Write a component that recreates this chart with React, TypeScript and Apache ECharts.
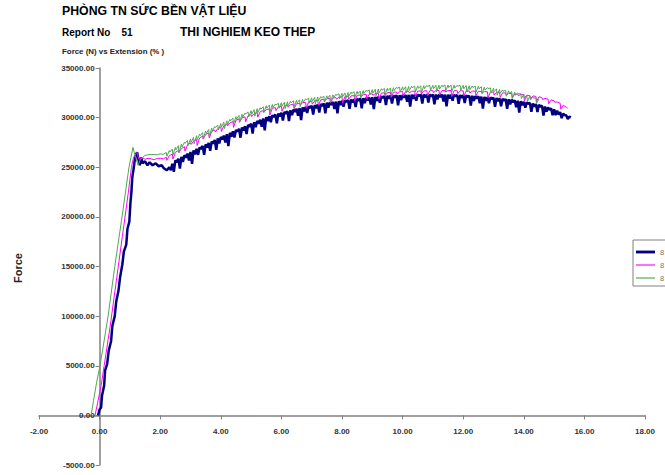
import React, { useEffect, useRef } from "react";
import * as echarts from "echarts";

const seriesNames = ["8-1", "8-2", "8-3"];
const legendLabel = "8";
const xTicks = { min: -2, max: 18, interval: 2 };
const yTicks = { min: -5000, max: 35000, interval: 5000 };

const navy: number[][] = [
  [-0.05, 0], [0.0, 600], [0.05, 800], [0.08, 2000], [0.15, 3000], [0.18, 4500], [0.25, 5200], [0.3, 6500],
  [0.38, 7500], [0.42, 9000], [0.5, 10000], [0.55, 11500], [0.62, 12500], [0.68, 14000], [0.75, 15200],
  [0.8, 16500], [0.88, 17200], [0.92, 18800], [0.98, 19500], [1.02, 21500], [1.05, 22500], [1.08, 24000],
  [1.12, 24800], [1.15, 25500], [1.2, 26300], [1.24, 26500], [1.28, 25800], [1.33, 25200], [1.37, 26000],
  [1.42, 25400], [1.5, 25600], [1.58, 25200], [1.65, 25500], [1.75, 25200], [1.85, 25400], [1.95, 25100],
  [2.05, 25200], [2.12, 24900], [2.22, 24700],
  [2.3, 25000], [2.35, 24700], [2.4, 25350], [2.45, 24550], [2.5, 25700], [2.55, 25500], [2.6, 25870], [2.65, 24870],
  [2.7, 26040], [2.75, 25540], [2.8, 26210], [2.85, 25960], [2.9, 26380], [2.95, 25680], [3.0, 26550], [3.05, 25350],
  [3.1, 26700], [3.15, 26300], [3.2, 26850], [3.25, 26250], [3.3, 27000], [3.35, 26850], [3.4, 27150], [3.45, 26250],
  [3.5, 27300], [3.55, 27000], [3.6, 27450], [3.65, 26650], [3.7, 27600], [3.75, 27400], [3.8, 27750], [3.85, 26750],
  [3.9, 27900], [3.95, 27400], [4.0, 28050], [4.05, 27800], [4.1, 28190], [4.15, 27490], [4.2, 28330], [4.25, 27130],
  [4.3, 28470], [4.35, 28070], [4.4, 28610], [4.45, 28010], [4.5, 28750], [4.55, 28600], [4.6, 28880], [4.65, 27980],
  [4.7, 29010], [4.75, 28710], [4.8, 29140], [4.85, 28340], [4.9, 29270], [4.95, 29070], [5.0, 29400], [5.05, 28400],
  [5.1, 29530], [5.15, 29030], [5.2, 29660], [5.25, 29410], [5.3, 29790], [5.35, 29090], [5.4, 29920], [5.45, 28720],
  [5.5, 30050], [5.55, 29650], [5.6, 30140], [5.65, 29540], [5.7, 30230], [5.75, 30080], [5.8, 30320], [5.85, 29420],
  [5.9, 30410], [5.95, 30110], [6.0, 30500], [6.05, 29700], [6.1, 30580], [6.15, 30380], [6.2, 30660], [6.25, 29660],
  [6.3, 30740], [6.35, 30240], [6.4, 30820], [6.45, 30570], [6.5, 30900], [6.55, 30200], [6.6, 30960], [6.65, 29760],
  [6.7, 31020], [6.75, 30620], [6.8, 31080], [6.85, 30480], [6.9, 31140], [6.95, 30990], [7.0, 31200], [7.05, 30300],
  [7.1, 31260], [7.15, 30960], [7.2, 31320], [7.25, 30520], [7.3, 31380], [7.35, 31180], [7.4, 31440], [7.45, 30440],
  [7.5, 31500], [7.55, 31000], [7.6, 31540], [7.65, 31290], [7.7, 31580], [7.75, 30880], [7.8, 31620], [7.85, 30420],
  [7.9, 31660], [7.95, 31260], [8.0, 31700], [8.05, 31100], [8.1, 31740], [8.15, 31590], [8.2, 31780], [8.25, 30880],
  [8.3, 31820], [8.35, 31520], [8.4, 31860], [8.45, 31060], [8.5, 31900], [8.55, 31700], [8.6, 31930], [8.65, 30930],
  [8.7, 31960], [8.75, 31460], [8.8, 31990], [8.85, 31740], [8.9, 32020], [8.95, 31320], [9.0, 32050], [9.05, 30850],
  [9.1, 32080], [9.15, 31680], [9.2, 32110], [9.25, 31510], [9.3, 32140], [9.35, 31990], [9.4, 32170], [9.45, 31270],
  [9.5, 32200], [9.55, 31900], [9.6, 32220], [9.65, 31420], [9.7, 32230], [9.75, 32030], [9.8, 32250], [9.85, 31250],
  [9.9, 32260], [9.95, 31760], [10.0, 32280], [10.05, 32030], [10.1, 32290], [10.15, 31590], [10.2, 32300], [10.25, 31100],
  [10.3, 32305], [10.35, 31900], [10.4, 32310], [10.45, 31710], [10.5, 32320], [10.55, 32170], [10.6, 32325], [10.65, 31425],
  [10.7, 32330], [10.75, 32030], [10.8, 32330], [10.85, 31530], [10.9, 32330], [10.95, 32130], [11.0, 32330], [11.05, 31330],
  [11.1, 32330], [11.15, 31830], [11.2, 32330], [11.25, 32080], [11.3, 32328], [11.35, 31628], [11.4, 32325], [11.45, 31125],
  [11.5, 32320], [11.55, 31920], [11.6, 32310], [11.65, 31710], [11.7, 32300], [11.75, 32150], [11.8, 32290], [11.85, 31390],
  [11.9, 32280], [11.95, 31980], [12.0, 32270], [12.05, 31470], [12.1, 32250], [12.15, 32050], [12.2, 32220], [12.25, 31220],
  [12.3, 32200], [12.35, 31700], [12.4, 32170], [12.45, 31920], [12.5, 32150], [12.55, 31450], [12.6, 32120], [12.65, 30920],
  [12.7, 32090], [12.75, 31690], [12.8, 32060], [12.85, 31460], [12.9, 32030], [12.95, 31880], [13.0, 32000], [13.05, 31100],
  [13.1, 31970], [13.15, 31670], [13.2, 31940], [13.25, 31140], [13.3, 31910], [13.35, 31710], [13.4, 31880], [13.45, 30880],
  [13.5, 31850], [13.55, 31350], [13.6, 31800], [13.65, 31550], [13.7, 31750], [13.75, 31050], [13.8, 31700], [13.85, 30500],
  [13.9, 31650], [13.95, 31250], [14.0, 31600], [14.05, 31000], [14.1, 31540], [14.15, 31390], [14.2, 31480], [14.25, 30580],
  [14.3, 31420], [14.35, 31120], [14.4, 31360], [14.45, 30560], [14.5, 31300], [14.55, 31100], [14.6, 31210], [14.65, 30210],
  [14.7, 31120], [14.75, 30620], [14.8, 31030], [14.85, 30780], [14.9, 30940], [14.95, 30240], [15.0, 30850], [15.05, 30250],
  [15.1, 30700], [15.15, 30300], [15.2, 30550], [15.25, 29950], [15.3, 30400], [15.35, 30250], [15.4, 30250], [15.45, 29850],
  [15.5, 30100], [15.55, 30000],
];

const magenta: number[][] = [
  [-0.15, 0], [-0.05, 1500], [0.05, 3000], [0.15, 5000], [0.35, 9000], [0.55, 13500], [0.75, 18000],
  [0.95, 22500], [1.05, 25000], [1.12, 26000], [1.23, 26500], [1.3, 25800],
  [1.4, 26000], [1.5, 25800], [1.6, 25900], [1.7, 25850], [1.8, 25750], [1.9, 25900], [2.0, 25900], [2.1, 25850],
  [2.2, 26000], [2.22, 25700], [2.3, 26170], [2.4, 26330], [2.42, 25830], [2.5, 26500], [2.6, 26690], [2.62, 26490],
  [2.7, 26880], [2.8, 27070], [2.82, 26620], [2.9, 27260], [3.0, 27450], [3.02, 27300], [3.1, 27620], [3.2, 27790],
  [3.22, 27190], [3.3, 27960], [3.4, 28130], [3.42, 27830], [3.5, 28300], [3.6, 28450], [3.62, 27950], [3.7, 28600],
  [3.8, 28750], [3.82, 28550], [3.9, 28900], [4.0, 29050], [4.02, 28600], [4.1, 29190], [4.2, 29330], [4.22, 29180],
  [4.3, 29470], [4.4, 29610], [4.42, 29010], [4.5, 29750], [4.6, 29860], [4.62, 29560], [4.7, 29970], [4.8, 30080],
  [4.82, 29580], [4.9, 30190], [5.0, 30300], [5.02, 30100], [5.1, 30400], [5.2, 30500], [5.22, 30050], [5.3, 30600],
  [5.4, 30700], [5.42, 30550], [5.5, 30800], [5.6, 30870], [5.62, 30270], [5.7, 30940], [5.8, 31010], [5.82, 30710],
  [5.9, 31080], [6.0, 31150], [6.02, 30650], [6.1, 31200], [6.2, 31250], [6.22, 31050], [6.3, 31300], [6.4, 31350],
  [6.42, 30900], [6.5, 31400], [6.6, 31450], [6.62, 31300], [6.7, 31500], [6.8, 31550], [6.82, 30950], [6.9, 31600],
  [7.0, 31650], [7.02, 31350], [7.1, 31700], [7.2, 31750], [7.22, 31250], [7.3, 31800], [7.4, 31850], [7.42, 31650],
  [7.5, 31900], [7.6, 31940], [7.62, 31490], [7.7, 31980], [7.8, 32020], [7.82, 31870], [7.9, 32060], [8.0, 32100],
  [8.02, 31500], [8.1, 32130], [8.2, 32160], [8.22, 31860], [8.3, 32190], [8.4, 32220], [8.42, 31720], [8.5, 32250],
  [8.6, 32280], [8.62, 32080], [8.7, 32310], [8.8, 32340], [8.82, 31890], [8.9, 32370], [9.0, 32400], [9.02, 32250],
  [9.1, 32420], [9.2, 32450], [9.22, 31850], [9.3, 32470], [9.4, 32500], [9.42, 32200], [9.5, 32520], [9.6, 32540],
  [9.62, 32040], [9.7, 32560], [9.8, 32580], [9.82, 32380], [9.9, 32600], [10.0, 32620], [10.02, 32170], [10.1, 32630],
  [10.2, 32645], [10.22, 32495], [10.3, 32655], [10.4, 32670], [10.42, 32070], [10.5, 32680], [10.6, 32690], [10.62, 32390],
  [10.7, 32700], [10.8, 32705], [10.82, 32205], [10.9, 32715], [11.0, 32720], [11.02, 32520], [11.1, 32722], [11.2, 32725],
  [11.22, 32275], [11.3, 32727], [11.4, 32729], [11.42, 32579], [11.5, 32730], [11.6, 32725], [11.62, 32125], [11.7, 32718],
  [11.8, 32712], [11.82, 32412], [11.9, 32706], [12.0, 32700], [12.02, 32200], [12.1, 32690], [12.2, 32680], [12.22, 32480],
  [12.3, 32670], [12.4, 32660], [12.42, 32210], [12.5, 32650], [12.6, 32635], [12.62, 32485], [12.7, 32620], [12.8, 32610],
  [12.82, 32010], [12.9, 32595], [13.0, 32580], [13.02, 32280], [13.1, 32555], [13.2, 32530], [13.22, 32030], [13.3, 32500],
  [13.4, 32475], [13.42, 32275], [13.5, 32450], [13.6, 32420], [13.62, 31970], [13.7, 32390], [13.8, 32360], [13.82, 32210],
  [13.9, 32330], [14.0, 32300], [14.02, 31700], [14.1, 32260], [14.2, 32220], [14.22, 31920], [14.3, 32180], [14.4, 32140],
  [14.42, 31640], [14.5, 32100], [14.6, 32020], [14.62, 31820], [14.7, 31940], [14.8, 31860], [14.82, 31410], [14.9, 31780],
  [15.0, 31700], [15.02, 31550], [15.1, 31580], [15.2, 31450], [15.22, 30850], [15.3, 31250], [15.4, 31050], [15.45, 30950],
];

const green: number[][] = [
  [-0.28, 0], [-0.2, 1500], [-0.1, 3300], [0.0, 4800], [0.1, 6600], [0.28, 10000], [0.5, 15000],
  [0.74, 20000], [0.97, 25000], [1.1, 27000], [1.17, 26200], [1.27, 25200], [1.35, 25800], [1.5, 26200],
  [1.7, 26300], [1.9, 26250], [2.0, 26350], [2.1, 26300],
  [2.2, 26500], [2.22, 26100], [2.3, 26680], [2.32, 26530], [2.4, 26840], [2.42, 26240], [2.5, 27000], [2.52, 26750],
  [2.6, 27170], [2.62, 26470], [2.7, 27340], [2.72, 27040], [2.8, 27510], [2.82, 27410], [2.9, 27680], [2.92, 27180],
  [3.0, 27850], [3.02, 27500], [3.1, 28010], [3.12, 27360], [3.2, 28170], [3.22, 27770], [3.3, 28330], [3.32, 28180],
  [3.4, 28490], [3.42, 27890], [3.5, 28650], [3.52, 28400], [3.6, 28800], [3.62, 28100], [3.7, 28950], [3.72, 28650],
  [3.8, 29100], [3.82, 29000], [3.9, 29250], [3.92, 28750], [4.0, 29400], [4.02, 29050], [4.1, 29540], [4.12, 28890],
  [4.2, 29680], [4.22, 29280], [4.3, 29820], [4.32, 29670], [4.4, 29960], [4.42, 29360], [4.5, 30100], [4.52, 29850],
  [4.6, 30220], [4.62, 29520], [4.7, 30340], [4.72, 30040], [4.8, 30460], [4.82, 30360], [4.9, 30580], [4.92, 30080],
  [5.0, 30700], [5.02, 30350], [5.1, 30800], [5.12, 30150], [5.2, 30900], [5.22, 30500], [5.3, 31000], [5.32, 30850],
  [5.4, 31100], [5.42, 30500], [5.5, 31200], [5.52, 30950], [5.6, 31260], [5.62, 30560], [5.7, 31320], [5.72, 31020],
  [5.8, 31380], [5.82, 31280], [5.9, 31440], [5.92, 30940], [6.0, 31500], [6.02, 31150], [6.1, 31550], [6.12, 30900],
  [6.2, 31600], [6.22, 31200], [6.3, 31650], [6.32, 31500], [6.4, 31700], [6.42, 31100], [6.5, 31750], [6.52, 31500],
  [6.6, 31800], [6.62, 31100], [6.7, 31850], [6.72, 31550], [6.8, 31900], [6.82, 31800], [6.9, 31950], [6.92, 31450],
  [7.0, 32000], [7.02, 31650], [7.1, 32040], [7.12, 31390], [7.2, 32080], [7.22, 31680], [7.3, 32120], [7.32, 31970],
  [7.4, 32160], [7.42, 31560], [7.5, 32200], [7.52, 31950], [7.6, 32250], [7.62, 31550], [7.7, 32300], [7.72, 32000],
  [7.8, 32350], [7.82, 32250], [7.9, 32400], [7.92, 31900], [8.0, 32450], [8.02, 32100], [8.1, 32490], [8.12, 31840],
  [8.2, 32530], [8.22, 32130], [8.3, 32570], [8.32, 32420], [8.4, 32610], [8.42, 32010], [8.5, 32650], [8.52, 32400],
  [8.6, 32680], [8.62, 31980], [8.7, 32720], [8.72, 32420], [8.8, 32750], [8.82, 32650], [8.9, 32790], [8.92, 32290],
  [9.0, 32820], [9.02, 32470], [9.1, 32850], [9.12, 32200], [9.2, 32880], [9.22, 32480], [9.3, 32910], [9.32, 32760],
  [9.4, 32940], [9.42, 32340], [9.5, 32970], [9.52, 32720], [9.6, 33000], [9.62, 32300], [9.7, 33020], [9.72, 32720],
  [9.8, 33050], [9.82, 32950], [9.9, 33070], [9.92, 32570], [10.0, 33100], [10.02, 32750], [10.1, 33120], [10.12, 32470],
  [10.2, 33140], [10.22, 32740], [10.3, 33160], [10.32, 33010], [10.4, 33180], [10.42, 32580], [10.5, 33200], [10.52, 32950],
  [10.6, 33210], [10.62, 32510], [10.7, 33220], [10.72, 32920], [10.8, 33240], [10.82, 33140], [10.9, 33250], [10.92, 32750],
  [11.0, 33260], [11.02, 32910], [11.1, 33265], [11.12, 32615], [11.2, 33270], [11.22, 32870], [11.3, 33275], [11.32, 33125],
  [11.4, 33280], [11.42, 32680], [11.5, 33280], [11.52, 33030], [11.6, 33275], [11.62, 32575], [11.7, 33270], [11.72, 32970],
  [11.8, 33260], [11.82, 33160], [11.9, 33255], [11.92, 32755], [12.0, 33250], [12.02, 32900], [12.1, 33230], [12.12, 32580],
  [12.2, 33210], [12.22, 32810], [12.3, 33190], [12.32, 33040], [12.4, 33170], [12.42, 32570], [12.5, 33150], [12.52, 32900],
  [12.6, 33110], [12.62, 32410], [12.7, 33070], [12.72, 32770], [12.8, 33030], [12.82, 32930], [12.9, 32990], [12.92, 32490],
  [13.0, 32950], [13.02, 32600], [13.1, 32900], [13.12, 32250], [13.2, 32850], [13.22, 32450], [13.3, 32800], [13.32, 32650],
  [13.4, 32750], [13.42, 32150], [13.5, 32700], [13.52, 32450], [13.6, 32630], [13.62, 31930], [13.7, 32560], [13.72, 32260],
  [13.8, 32490], [13.82, 32390], [13.9, 32420], [13.92, 31920], [14.0, 32350], [14.02, 32000], [14.1, 32270], [14.12, 31620],
  [14.2, 32180], [14.22, 31780], [14.3, 32100], [14.32, 31950], [14.4, 32000], [14.42, 31400], [14.5, 31900],
];

const seriesColors = ["#000080", "#ff00ff", "#4fa84f"];
const seriesWidths = [2.5, 1, 1];
const legendIcons = ["path://M0,0H20V3H0Z", "path://M0,0H20V1.2H0Z", "path://M0,0H20V1.2H0Z"];

export default function App() {
  const ref = useRef<HTMLDivElement>(null);
  useEffect(() => {
    if (!ref.current) return;
    const chart = echarts.init(ref.current, undefined, { renderer: "svg" });
    const datasets = [navy, magenta, green];
    const axisLabelStyle = {
      fontFamily: "Liberation Sans, Arial, sans-serif",
      fontSize: 8,
      fontWeight: "bold" as const,
      color: "#333",
    };
    chart.setOption({
      animation: false,
      backgroundColor: "#ffffff",
      grid: { left: 39, right: 20, top: 68, bottom: 10, containLabel: false },
      xAxis: {
        type: "value",
        position: "bottom",
        offset: -49.6,
        min: xTicks.min,
        max: xTicks.max,
        interval: xTicks.interval,
        axisLine: { onZero: false, lineStyle: { color: "#808080", width: 1.5 } },
        axisTick: { show: true, length: 4, lineStyle: { color: "#808080" } },
        axisLabel: { ...axisLabelStyle, margin: 12, formatter: (v: number) => v.toFixed(2) },
        splitLine: { show: false },
      },
      yAxis: {
        type: "value",
        position: "left",
        offset: -60.6,
        min: yTicks.min,
        max: yTicks.max,
        interval: yTicks.interval,
        axisLine: { show: true, onZero: false, lineStyle: { color: "#808080", width: 1.5 } },
        axisTick: { show: true, length: 4, lineStyle: { color: "#808080" } },
        axisLabel: { ...axisLabelStyle, margin: 5, formatter: (v: number) => v.toFixed(2) },
        splitLine: { show: false },
      },
      legend: {
        data: seriesNames.map((n, i) => ({ name: n, icon: legendIcons[i] })),
        formatter: () => legendLabel,
        orient: "vertical",
        left: 633,
        top: 240,
        itemWidth: 19,
        itemHeight: 8,
        itemGap: 5,
        padding: [8, 4, 4, 3],
        backgroundColor: "#ffffff",
        borderColor: "#808080",
        borderWidth: 1,
        borderRadius: 0,
        textStyle: { fontSize: 7.5, color: "#8a7050", fontFamily: "Liberation Sans, Arial, sans-serif" },
      },
      graphic: [
        {
          type: "text", left: 62, top: 5,
          style: { text: "PHÒNG TN SỨC BỀN VẬT LIỆU", font: "bold 12.3px 'Liberation Sans', Arial, sans-serif", fill: "#000" },
        },
        {
          type: "text", left: 62, top: 27,
          style: { text: "Report No    51", font: "bold 10px 'Liberation Sans', Arial, sans-serif", fill: "#000" },
        },
        {
          type: "text", left: 180, top: 26,
          style: { text: "THI NGHIEM KEO THEP", font: "bold 12px 'Liberation Sans', Arial, sans-serif", fill: "#000" },
        },
        {
          type: "text", left: 62, top: 47,
          style: { text: "Force (N) vs Extension (% )", font: "bold 7.9px 'Liberation Sans', Arial, sans-serif", fill: "#222" },
        },
        {
          type: "text", x: 18, y: 268, rotation: Math.PI / 2,
          style: { text: "Force", font: "bold 11px 'Liberation Sans', Arial, sans-serif", fill: "#222", textAlign: "center", textVerticalAlign: "middle" },
        },
      ],
      series: datasets.map((d, i) => ({
        name: seriesNames[i],
        type: "line",
        data: d,
        symbol: "none",
        lineStyle: { color: seriesColors[i], width: seriesWidths[i] },
        itemStyle: { color: seriesColors[i] },
        z: 2 + i,
      })),
    });
    return () => chart.dispose();
  }, []);
  return (
    <div
      ref={ref}
      style={{ position: "fixed", left: 0, top: 0, width: 665, height: 475, background: "#fff" }}
    />
  );
}
